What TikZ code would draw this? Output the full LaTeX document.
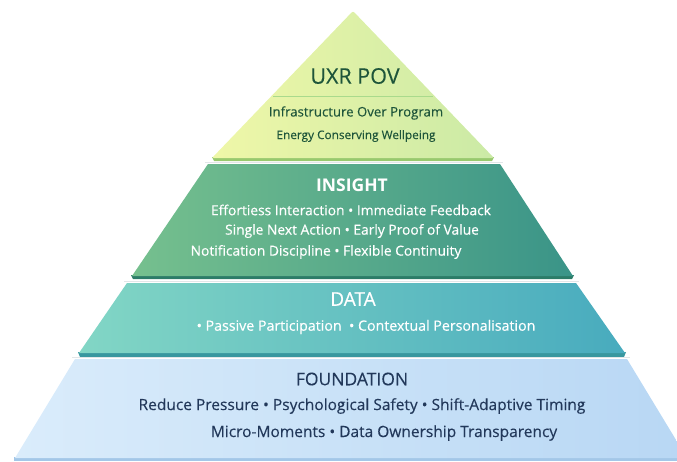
\documentclass[tikz,border=0pt]{standalone}
\usepackage{fontspec}
\setmainfont{Open Sans}
\newfontfamily\medfont[FakeBold=0.35]{Open Sans}
\newfontfamily\semfont[FakeBold=0.2]{Open Sans}
\usetikzlibrary{calc}
\definecolor{tAl}{HTML}{EFF7A8}
\definecolor{tAr}{HTML}{CBEAA6}
\definecolor{tAb}{HTML}{98C96E}
\definecolor{tAt}{HTML}{1E553A}
\definecolor{tAd}{HTML}{A9DA8C}
\definecolor{tBl}{HTML}{76C08E}
\definecolor{tBr}{HTML}{3A9488}
\definecolor{tBb}{HTML}{2C7C68}
\definecolor{tCl}{HTML}{82D6C5}
\definecolor{tCr}{HTML}{48ABBE}
\definecolor{tCb}{HTML}{38979F}
\definecolor{tDl}{HTML}{DAECFB}
\definecolor{tDr}{HTML}{B8D7F4}
\definecolor{tDb}{HTML}{A3C7E8}
\definecolor{tDt}{HTML}{22385A}
\definecolor{sep}{HTML}{E2E6E8}
\tikzset{
  hdr/.style={anchor=center,inner sep=0pt},
  lne/.style={anchor=center,inner sep=0pt},
}
\begin{document}
\begin{tikzpicture}[x=1pt,y=-1pt]
\useasboundingbox (0,0) rectangle (677,461);
\clip (0,0) rectangle (677,461);
% ---------- tier 1: triangle
\draw[sep,line width=1pt] (210,162.5) -- (496,162.5);
\fill[tAb] (212,157) -- (494,157) -- (492,161) -- (214,161) -- cycle;
\shade[left color=tAl,right color=tAr,rounded corners=2pt] (353,11) -- (494,158) -- (212,158) -- cycle;
\draw[tAd,line width=0.8pt] (273,96) -- (433,96);
% ---------- tier 2
\draw[sep,line width=1.2pt] (205,162.8) -- (503,162.8);
\fill[tBb] (131,275) -- (574,275) -- (572,279) -- (133,279) -- cycle;
\shade[shading=axis,shading angle=-60,left color=tBl,right color=tBr] (208,164) -- (500,164) -- (573,276) -- (132,276) -- cycle;
% ---------- tier 3
\draw[sep,line width=1.2pt] (124,281.5) -- (579,281.5);
\fill[tCb] (78,352) -- (626,352) -- (624,357) -- (80,357) -- cycle;
\shade[left color=tCl,right color=tCr] (127,283) -- (576,283) -- (625,353) -- (79,353) -- cycle;
% ---------- tier 4
\draw[sep,line width=1.2pt] (72,357.8) -- (630,357.8);
\fill[tDb] (14,457) -- (690,457) -- (690,461) -- (14,461) -- cycle;
\shade[left color=tDl,right color=tDr] (75,359) -- (627,359) -- (687,458) -- (15,458) -- cycle;
% ---------- texts
\node[hdr,text=tAt] (uxr) at (355,76) {\fontsize{21.5}{25}\semfont UXR POV};
\node[lne,text=tAt] (uxr1) at (356,113) {\fontsize{13.2}{16}\semfont Infrastructure Over Program};
\node[lne,text=tAt] (uxr2) at (356,136) {\fontsize{11.8}{14}\semfont Energy Conserving Wellpeing};
\node[hdr,text=white] (ins) at (352,185) {\fontsize{17.5}{20}\selectfont\bfseries INSIGHT};
\node[lne,text=white] (ins1) at (351,210) {\fontsize{13.8}{16}\medfont Effortiess Interaction • Immediate Feedback};
\node[lne,text=white] (ins2) at (352,231) {\fontsize{13.8}{16}\medfont Single Next Action • Early Proof of Value};
\node[lne,text=white] (ins3) at (326,252) {\fontsize{13.8}{16}\medfont Notification Discipline • Flexible Continuity};
\node[hdr,text=white] (dat) at (353,299) {\fontsize{19}{22}\medfont DATA};
\node[lne,text=white] (dat1) at (366,327) {\fontsize{14.2}{17}\medfont • Passive Participation\ \ • Contextual Personalisation};
\node[hdr,text=tDt] (fnd) at (352,379) {\fontsize{17.5}{20}\semfont FOUNDATION};
\node[lne,text=tDt] (fnd1) at (362,406) {\fontsize{15.5}{18}\semfont Reduce Pressure • Psychological Safety • Shift-Adaptive Timing};
\node[lne,text=tDt] (fnd2) at (384,433) {\fontsize{15.5}{18}\semfont Micro-Moments • Data Ownership Transparency};
\end{tikzpicture}
\end{document}
